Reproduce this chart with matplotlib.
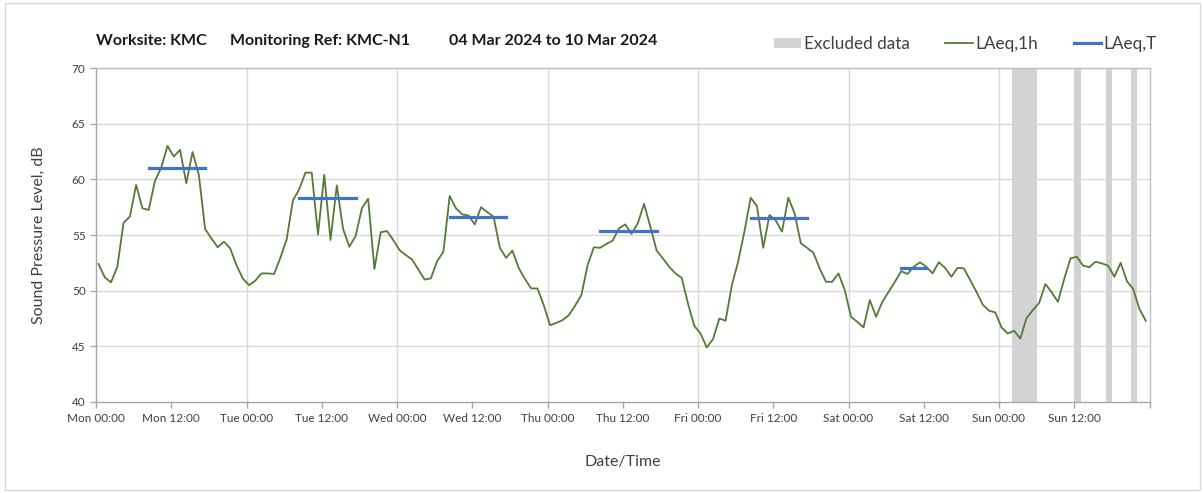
import numpy as np
import matplotlib
matplotlib.use("Agg")
import matplotlib.pyplot as plt
from matplotlib.patches import Patch, Rectangle
from matplotlib.lines import Line2D

# ---------------- data ----------------
title_parts = ["Worksite: KMC", "Monitoring Ref: KMC-N1", "04 Mar 2024 to 10 Mar 2024"]

# hourly LAeq,1h values, Mon 00:00 .. Sun 23:00
laeq_1h = [
    52.4, 51.2, 50.75, 52.15, 56.1, 56.65, 59.5, 57.4, 57.25, 59.85, 61.05, 63.0,
    62.05, 62.65, 59.65, 62.45, 60.4, 55.55, 54.7, 53.9, 54.4, 53.8, 52.3, 51.1,
    50.5, 50.9, 51.55, 51.55, 51.5, 52.95, 54.6, 58.1, 59.1, 60.6, 60.6, 55.05,
    60.4, 54.55, 59.45, 55.55, 53.95, 54.9, 57.4, 58.25, 51.95, 55.25, 55.35, 54.55,
    53.65, 53.2, 52.8, 51.9, 51.0, 51.1, 52.65, 53.5, 58.5, 57.4, 56.85, 56.75,
    55.95, 57.5, 57.05, 56.65, 53.85, 52.95, 53.6, 52.05, 51.05, 50.2, 50.2, 48.7,
    46.9, 47.1, 47.35, 47.8, 48.65, 49.6, 52.3, 53.9, 53.85, 54.2, 54.5, 55.6,
    55.95, 55.1, 56.05, 57.8, 55.75, 53.6, 52.9, 52.15, 51.55, 51.15, 48.85, 46.85,
    46.15, 44.9, 45.65, 47.5, 47.3, 50.5, 52.6, 55.3, 58.35, 57.6, 53.85, 56.8,
    56.3, 55.3, 58.35, 56.95, 54.25, 53.85, 53.4, 52.0, 50.8, 50.8, 51.55, 50.05,
    47.65, 47.2, 46.7, 49.15, 47.65, 49.0, 49.9, 50.8, 51.75, 51.5, 52.15, 52.55,
    52.15, 51.55, 52.55, 52.05, 51.25, 52.05, 52.0, 50.95, 49.9, 48.75, 48.2, 48.05,
    46.7, 46.15, 46.4, 45.7, 47.55, 48.25, 48.9, 50.6, 49.85, 49.0, 51.05, 52.9,
    53.05, 52.25, 52.1, 52.6, 52.45, 52.25, 51.25, 52.5, 50.85, 50.15, 48.35, 47.3,
]

# LAeq,T per daytime period (day index, first hour, last hour, level)
laeqT_day = [0, 1, 2, 3, 4, 5]
laeqT_start = [8, 8, 8, 8, 8, 8]
laeqT_end = [17, 17, 17, 17, 17, 12]
laeqT_level = [61.0, 58.3, 56.6, 55.4, 56.5, 52.0]

# excluded data periods (hours from Mon 00:00)
excl_start = [146, 156, 161, 165]
excl_end = [150, 157, 162, 166]

tick_labels = ["Mon 00:00", "Mon 12:00", "Tue 00:00", "Tue 12:00", "Wed 00:00",
               "Wed 12:00", "Thu 00:00", "Thu 12:00", "Fri 00:00", "Fri 12:00",
               "Sat 00:00", "Sat 12:00", "Sun 00:00", "Sun 12:00", ""]

# ---------------- style ----------------
FONT = ["Lato", "DejaVu Sans"]
plt.rcParams["font.family"] = FONT
GREEN = "#557a38"
BLUE = "#4472c4"
GREY_BAND = "#d3d3d3"
GRID = "#d9d9d9"
TXT = "#404040"

W, H = 1203, 493
fig = plt.figure(figsize=(W / 100, H / 100), dpi=100)
fig.patch.set_facecolor("white")
fig.patches.append(Rectangle((5 / W, 3 / H), (W - 8) / W, (H - 6) / H,
                             transform=fig.transFigure, fill=False,
                             edgecolor="#d9d9d9", linewidth=1))

ax = fig.add_axes([96 / W, 1 - 402 / H, (1149.5 - 96) / W, (402 - 68) / H])

offset = 0.4
x = np.arange(len(laeq_1h)) + offset

for s, e in zip(excl_start, excl_end):
    ax.axvspan(s, e, color=GREY_BAND, linewidth=0, zorder=1)

ax.plot(x, laeq_1h, color=GREEN, linewidth=1.3, zorder=3)

for d, s, e, lv in zip(laeqT_day, laeqT_start, laeqT_end, laeqT_level):
    ax.plot([d * 24 + s + offset, d * 24 + e + offset], [lv, lv], color=BLUE,
            linewidth=2.3, solid_capstyle="projecting", zorder=4)

ax.set_xlim(0, 168)
ax.set_ylim(40, 70)
ax.set_xticks(np.arange(0, 169, 12))
ax.set_xticklabels(tick_labels)
ax.set_yticks(np.arange(40, 71, 5))
ax.grid(False)
for v in range(24, 168, 24):
    ax.axvline(v, color=GRID, linewidth=1, zorder=0)
for v in range(45, 71, 5):
    ax.axhline(v, color=GRID, linewidth=1, zorder=0)

for sp in ["top", "right"]:
    ax.spines[sp].set_color("#bfbfbf")
    ax.spines[sp].set_linewidth(1)
for sp in ["left", "bottom"]:
    ax.spines[sp].set_color("#a6a6a6")
    ax.spines[sp].set_linewidth(1)

ax.tick_params(axis="both", direction="out", length=4, width=1, color="#a6a6a6",
               labelsize=8.5, labelcolor=TXT)
ax.tick_params(axis="x", pad=4)

ax.set_ylabel("Sound Pressure Level, dB", fontsize=11.5, color=TXT, labelpad=19)
ax.set_xlabel("Date/Time", fontsize=11.5, color=TXT, labelpad=22)

# title
tx = [96, 230, 449]
for t, xx in zip(title_parts, tx):
    fig.text(xx / W, 1 - 41 / H, t, fontsize=11.5, fontweight="bold", color="#1a1a1a",
             va="center", ha="left")

handles = [Patch(facecolor=GREY_BAND, edgecolor="none"),
           Line2D([], [], color=GREEN, linewidth=1.3),
           Line2D([], [], color=BLUE, linewidth=2.3)]
labels = ["Excluded data", "LAeq,1h", "LAeq,T"]
leg = fig.legend(handles, labels, loc="center right",
                 bbox_to_anchor=(1169 / W, 1 - 44 / H), ncol=3, frameon=False,
                 fontsize=12.3, handlelength=1.6, handletextpad=0.15,
                 columnspacing=2.1, handleheight=0.6, borderpad=0.2)
for t in leg.get_texts():
    t.set_color(TXT)

fig.savefig("out.png", dpi=100)
